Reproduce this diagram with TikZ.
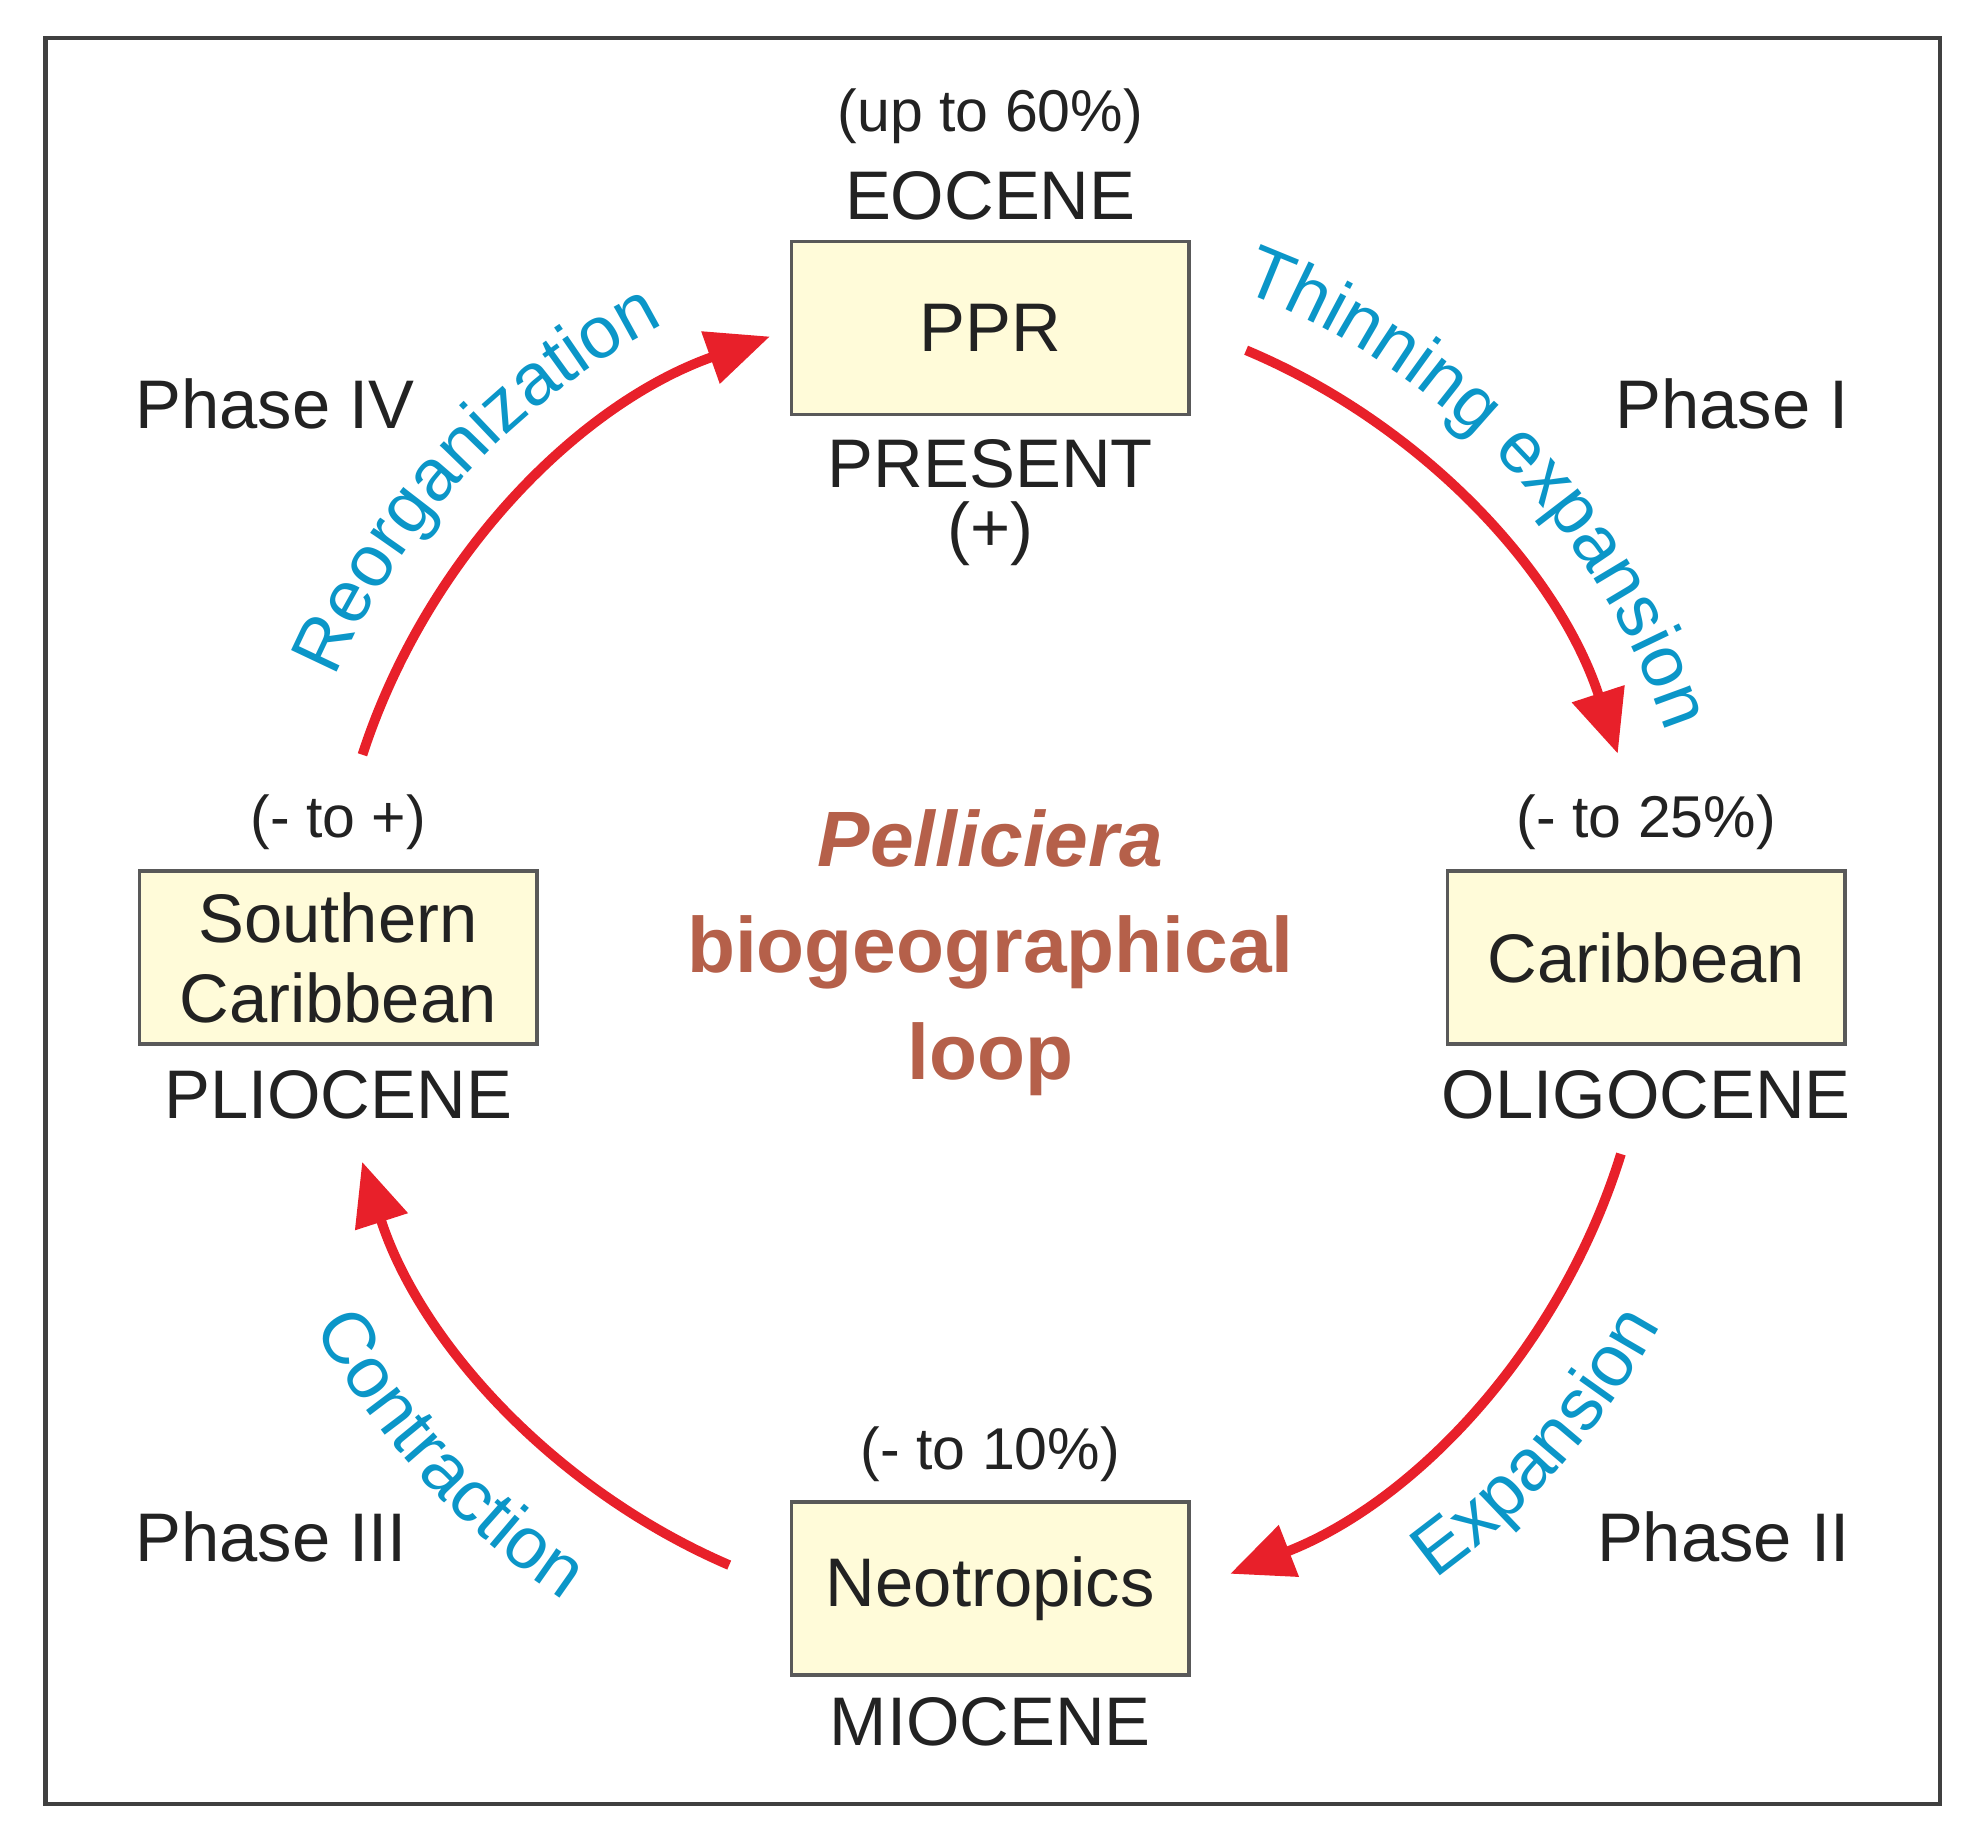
\documentclass[tikz,border=0pt]{standalone}
\usepackage{fontspec}
\setmainfont{Liberation Sans}
\usetikzlibrary{decorations.text,calc,arrows.meta}
\definecolor{boxfill}{HTML}{FFFBD9}
\definecolor{arrred}{HTML}{E8202A}
\definecolor{lblblue}{HTML}{0B96C8}
\definecolor{ttl}{HTML}{B5604A}
\definecolor{txt}{HTML}{222222}
\begin{document}
\begin{tikzpicture}[x=0.01cm,y=0.01cm,
  bx/.style={draw=black!65,line width=0.8pt,fill=boxfill,minimum width=3.15cm,minimum height=1.37cm,align=center,inner sep=0pt,font=\fontsize{15.5}{18.5}\selectfont,text=txt},
  ep/.style={font=\fontsize{15.5}{18.5}\selectfont,text=txt},
  pc/.style={font=\fontsize{13.3}{16}\selectfont,text=txt},
  ar/.style={draw=arrred,line width=2.2pt,-{Triangle[length=0.5cm,width=0.42cm]}},
  lb/.style={decorate,decoration={text along path,text align=center,text={|\fontsize{16.5}{20}\selectfont\color{lblblue}|#1}}}]
\useasboundingbox (0,0) rectangle (1560,-1450);
\draw[black!75,line width=1pt] (36,-30) rectangle (1538,-1430);
\coordinate (C) at (785,-760);
\node[bx] (ppr) at (785,-260) {PPR};
\node[bx] (car) at (1305,-759) {Caribbean};
\node[bx,font=\fontsize{15.5}{18}\selectfont] (sc) at (268,-759) {Southern\\Caribbean};
\node[bx] (neo) at (785,-1259) {Neotropics};
\node[pc] (p1) at (785,-92) {(up to 60\%)};
\node[ep] (eo) at (785,-155) {EOCENE};
\node[ep] (pr) at (785,-368) {PRESENT};
\node[ep] (pl) at (785,-423) {(+)};
\node[pc] (p2) at (1305,-652) {(- to 25\%)};
\node[ep] (ol) at (1305,-868) {OLIGOCENE};
\node[pc] (p3) at (268,-652) {(- to +)};
\node[ep] (pli) at (268,-868) {PLIOCENE};
\node[pc] (p4) at (785,-1153) {(- to 10\%)};
\node[ep] (mi) at (785,-1365) {MIOCENE};
\node[ep] (ph4) at (218,-320) {Phase IV};
\node[ep] (ph1) at (1373,-320) {Phase I};
\node[ep] (ph3) at (215,-1218) {Phase III};
\node[ep] (ph2) at (1366,-1218) {Phase II};
\node[text=ttl,font=\bfseries\fontsize{17.7}{21}\selectfont,align=center] (title) at (785,-755)
  {\textit{Pelliciera}\\[3pt]biogeographical\\[3pt]loop};
\draw[ar] ($(C)+(67.2:5.23cm)$) arc[start angle=67.2,end angle=18.1,radius=5.23cm];
\draw[ar] ($(C)+(-17.2:5.23cm)$) arc[start angle=-17.2,end angle=-68.7,radius=5.23cm];
\draw[ar] ($(C)+(-113.3:5.23cm)$) arc[start angle=-113.3,end angle=-162.1,radius=5.23cm];
\draw[ar] ($(C)+(162:5.23cm)$) arc[start angle=162,end angle=109.5,radius=5.23cm];
\path[lb={Thinning expansion}] ($(C)+(72:5.65cm)$) arc[start angle=72,end angle=16,radius=5.65cm];
\path[lb={Reorganization}] ($(C)+(162:5.65cm)$) arc[start angle=162,end angle=112,radius=5.65cm];
\path[lb={Expansion}] ($(C)+(-62:6.05cm)$) arc[start angle=-62,end angle=-21,radius=6.05cm];
\path[lb={Contraction}] ($(C)+(-158:6.1cm)$) arc[start angle=-158,end angle=-117,radius=6.1cm];
\end{tikzpicture}
\end{document}
